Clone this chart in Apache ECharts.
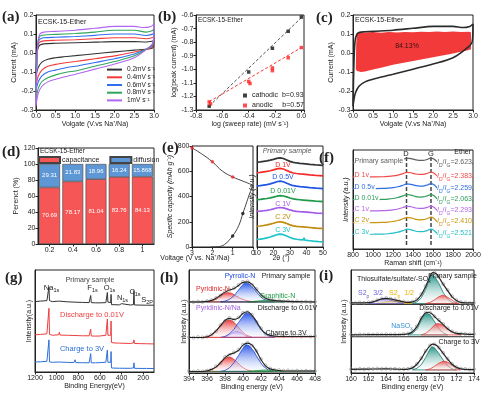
<!DOCTYPE html>
<html><head><meta charset="utf-8">
<script src="https://cdn.jsdelivr.net/npm/echarts@6/dist/echarts.min.js"></script>
<style>html,body{margin:0;padding:0;background:#fff}#c{width:500px;height:393px}</style>
</head><body><div id="c"></div>
<script>
// ---------- (a) CV curves ----------
const cvNames = ['0.2mV s⁻¹','0.4mV s⁻¹','0.6mV s⁻¹','0.8mV s⁻¹','1mV s⁻¹'];
const cvColors = ['#333333','#f23b3b','#2f6ff0','#2fa65c','#b066f0'];
const cv02 = [[0,-0.12],[0.02,-0.02],[0.05,0.025],[0.1,0.042],[0.2,0.048],[0.5,0.051],[1.0,0.054],[1.5,0.057],[2.0,0.06],[2.5,0.06],[2.8,0.058],[2.95,0.062],[3.0,0.066],[2.98,0.03],[2.9,0.022],[2.5,0.015],[2.0,0.006],[1.5,-0.004],[1.0,-0.014],[0.7,-0.02],[0.5,-0.025],[0.3,-0.033],[0.15,-0.048],[0.06,-0.075],[0.02,-0.1],[0,-0.12]];
const cv04 = [[0,-0.17],[0.02,-0.04],[0.05,0.04],[0.1,0.058],[0.2,0.064],[0.5,0.067],[1.0,0.07],[1.5,0.075],[2.0,0.08],[2.5,0.08],[2.8,0.075],[2.95,0.08],[3.0,0.086],[2.98,0.04],[2.9,0.025],[2.5,0.005],[2.0,-0.015],[1.5,-0.03],[1.0,-0.045],[0.8,-0.05],[0.5,-0.06],[0.3,-0.07],[0.15,-0.09],[0.06,-0.12],[0.02,-0.15],[0,-0.17]];
const cv06 = [[0,-0.2],[0.02,-0.05],[0.05,0.05],[0.1,0.073],[0.2,0.08],[0.5,0.083],[1.0,0.087],[1.5,0.093],[2.0,0.1],[2.5,0.1],[2.8,0.092],[2.95,0.098],[3.0,0.105],[2.98,0.05],[2.9,0.03],[2.5,-0.005],[2.0,-0.03],[1.5,-0.05],[1.0,-0.07],[0.8,-0.076],[0.5,-0.09],[0.3,-0.1],[0.15,-0.12],[0.06,-0.15],[0.02,-0.18],[0,-0.2]];
const cv08 = [[0,-0.24],[0.02,-0.06],[0.05,0.055],[0.1,0.088],[0.2,0.095],[0.5,0.098],[1.0,0.103],[1.5,0.11],[2.0,0.12],[2.5,0.12],[2.8,0.11],[2.95,0.117],[3.0,0.125],[2.98,0.055],[2.9,0.033],[2.5,-0.015],[2.0,-0.045],[1.5,-0.07],[1.0,-0.095],[0.8,-0.1],[0.5,-0.115],[0.3,-0.13],[0.15,-0.15],[0.06,-0.185],[0.02,-0.22],[0,-0.24]];
const cv10 = [[0,-0.28],[0.02,-0.08],[0.05,0.06],[0.1,0.1],[0.2,0.11],[0.5,0.114],[1.0,0.12],[1.5,0.13],[2.0,0.14],[2.5,0.14],[2.75,0.134],[2.92,0.14],[3.0,0.152],[2.98,0.06],[2.9,0.035],[2.5,-0.025],[2.0,-0.058],[1.5,-0.085],[1.0,-0.112],[0.8,-0.122],[0.5,-0.138],[0.3,-0.152],[0.15,-0.175],[0.06,-0.21],[0.02,-0.25],[0,-0.28]];
const cvData = [cv02,cv04,cv06,cv08,cv10];

// ---------- (b) b-value ----------
const cathodicPts = [[-0.7,-1.272],[-0.4,-1.02],[-0.22,-0.845],[-0.1,-0.72],[0,-0.615]];
const anodicPts = [[-0.7,-1.24],[-0.69,-1.255],[-0.4,-1.09],[-0.39,-1.105],[-0.22,-0.99],[-0.22,-1.01],[-0.1,-0.915],[0,-0.84]];
const cathodicFit = [[-0.7,-1.271],[0,-0.62]];
const anodicFit = [[-0.7,-1.239],[0,-0.84]];

// ---------- (c) capacitive area ----------
const cCapUpper = [[0.07,-0.085],[0.08,0.05],[0.1,0.1],[0.15,0.112],[0.3,0.108],[0.5,0.11],[0.7,0.107],[0.9,0.11],[1.1,0.108],[1.3,0.111],[1.5,0.109],[1.7,0.112],[1.9,0.11],[2.1,0.113],[2.3,0.111],[2.5,0.113],[2.7,0.11],[2.9,0.112],[2.95,0.108]];
const cCapLower = [[0.07,-0.085],[0.1,-0.095],[0.2,-0.1],[0.3,-0.098],[0.5,-0.087],[0.7,-0.077],[1.0,-0.062],[1.3,-0.05],[1.5,-0.042],[1.8,-0.03],[2.0,-0.022],[2.3,-0.01],[2.5,-0.002],[2.7,0.006],[2.9,0.016],[2.95,0.02]];

// ---------- (d) contribution bars ----------
const rates = ['0.2','0.4','0.6','0.8','1'];
const capacitance = [70.69,78.17,81.04,83.76,84.13];
const diffusion = [29.31,21.83,18.96,16.24,15.868];

// ---------- (e) GCD + XRD ----------
const gcdCharge = [[3,785],[2.5,735],[2,675],[1.5,600],[1,555],[0.5,522],[0,490]];
const gcdDischarge = [[2.1,0],[1.7,3],[1.4,20],[1,88],[0.7,170],[0.5,265],[0.3,360],[0.15,430],[0,490]];
const gcdRedDots = [[3,785],[2,675],[1,555]];
const gcdBlackDots = [[1,88],[0.5,265]];
const xrdTheta = [10,12,14,16,18,20,22,24,26,28,30,32,34,36,38,38.5,39,42,44,46,48,50];
const xrdNames = ['Primary sample','D 1V','D 0.5V','D 0.01V','C 1V','C 2V','C 3V'];
const xrdColors = ['#333333','#f52a2a','#1f55e6','#1e9a4a','#a35ae6','#c08a0a','#1ec4c8'];
const xrdPrimary = [84,84.3,84.8,85.3,86,86.8,87.8,88.3,87.6,86.2,84.8,83.8,83.2,82.8,82.5,84,82.3,81.8,81.5,81.2,81,80.8];
const xrdD1 = [73.5,73.8,74.3,74.8,75.5,76.3,77.3,77.8,77.2,75.8,74.4,73.3,72.8,72.4,72.1,73.6,71.9,71.4,71.1,70.8,70.6,70.4];
const xrdD05 = [60.5,60.8,61.3,61.8,62.5,63.5,64.6,65.2,64.6,63.2,61.8,60.7,60.2,59.8,59.5,61.2,59.3,58.8,58.5,58.2,58,57.8];
const xrdD001 = [47,47.2,47.6,48,48.6,49.4,50.3,50.8,50.5,49.6,48.5,47.6,47.1,46.8,46.5,48.2,46.3,45.9,45.6,45.3,45.1,44.9];
const xrdC1 = [35.3,35.5,35.9,36.3,36.9,37.7,38.6,39.1,38.7,37.8,36.7,35.8,35.3,35,34.8,36.6,34.6,34.2,33.9,33.6,33.4,33.2];
const xrdC2 = [20.5,20.8,21.3,21.9,22.6,23.5,24.5,25,24.4,23.2,21.9,20.9,20.4,20.1,19.9,21.8,19.7,19.3,19,18.7,18.5,18.3];
const xrdC3 = [7.5,7.8,8.3,9,9.9,11,12.2,12.8,12.2,10.8,9.4,8.3,7.7,7.3,7,9.2,6.8,6.2,5.8,5.5,5.2,5];
const xrdData = [xrdPrimary,xrdD1,xrdD05,xrdD001,xrdC1,xrdC2,xrdC3];

// ---------- (f) Raman ----------
const ramanShift = [800,900,1000,1100,1150,1200,1250,1300,1340,1380,1420,1460,1500,1540,1580,1610,1640,1680,1750,1850,2000];
const ramanNames = ['Primary sample','D 1v','D 0.5v','D 0.01v','C 1v','C 2v','C 3v'];
const ramanRatios = ['2.623','2.383','2.259','2.063','2.293','2.410','2.521'];
const ramanColors = ['#606060','#f24a4a','#2f6fe0','#2e9e5b','#b565e8','#c8960f','#27c0c8'];
const ramanPrimary = [87,87,87.1,87.3,87.6,88.1,89,90.5,91.8,91.3,90.2,89.6,89.6,90.4,91.8,90.8,88.5,87,86.4,86.2,86.2];
const ramanD1 = [72.7,72.7,72.8,73,73.3,73.8,74.7,76.2,77.5,77,75.9,75.3,75.4,76.3,77.8,76.6,74,72.5,72,71.9,71.9];
const ramanD05 = [60.9,60.9,61,61.2,61.5,62,62.9,64.4,65.8,65.3,64.2,63.5,63.6,64.6,66,64.8,62,60.5,60,59.9,59.9];
const ramanD001 = [49.8,49.8,49.9,50.1,50.4,51,52,53.6,55,54.4,53.2,52.5,52.6,53.6,55,53.8,51,49.5,49,48.9,48.9];
const ramanC1 = [38.4,38.4,38.5,38.7,39,39.5,40.4,41.9,43.2,42.7,41.6,41,41.1,42,43.4,42.2,39.5,38,37.5,37.4,37.4];
const ramanC2 = [26.6,26.6,26.7,26.9,27.2,27.8,28.8,30.5,32,31.4,30.2,29.5,29.6,30.6,32.2,30.8,27.8,26,25.4,25.3,25.3];
const ramanC3 = [14.8,14.8,14.9,15.1,15.4,16,17,18.6,20,19.4,18.2,17.5,17.6,18.6,20.1,18.8,16,14.2,13.6,13.5,13.5];
const ramanData = [ramanPrimary,ramanD1,ramanD05,ramanD001,ramanC1,ramanC2,ramanC3];
const dBandLine = [[1335,93],[1335,4]];
const gBandLine = [[1580,93],[1580,4]];

// ---------- (g) XPS survey ----------
const gTicks = [200,400,600,800,1000,1200];
const surveyPrimary = [[1200,69],[1150,69.5],[1090,70],[1078,70.5],[1071,83.5],[1066,70],[1040,69],[980,69.5],[975,71],[968,69.2],[900,68.8],[840,68.5],[830,70],[822,68.4],[760,68.2],[700,68],[690,68.5],[685,75],[680,68],[640,67.8],[600,67.8],[545,68],[535,69],[531,78],[526,68.5],[510,67.5],[500,68],[497,76],[493,66],[470,66],[420,65.8],[403,66],[400,67],[397,65.8],[320,65.7],[290,66],[285,80],[281,65.7],[230,65.6],[170,65.5],[168,66.2],[164,65.5],[100,65.5]];
const surveyDischarge = [[1200,36.5],[1150,36.8],[1090,37.5],[1078,38],[1071,62.5],[1066,37],[1040,36],[980,36.5],[975,39],[968,36.2],[900,36],[840,35.8],[830,37],[822,35.6],[760,35.5],[700,35.5],[690,36],[685,42],[680,35.3],[640,35.2],[600,35.3],[545,36],[535,37.5],[531,52],[526,36],[510,35],[500,36],[497,50],[493,29],[470,28.5],[420,28.3],[403,28.5],[400,29],[397,28.2],[320,28],[290,28.5],[285,31.5],[281,28],[230,27.8],[170,27.7],[168,28],[164,27.7],[100,27.5]];
const surveyCharge = [[1200,9.8],[1150,10],[1090,10.5],[1078,11],[1071,31.5],[1066,10],[1040,9.5],[980,9.8],[975,11.5],[968,9.6],[900,9.4],[840,9.3],[830,12],[822,9.2],[760,9.1],[700,9],[690,9.5],[685,18],[680,9],[640,9],[600,9.2],[545,9.6],[535,11],[531,21.5],[526,9.5],[510,9],[500,9.5],[497,20],[493,4],[470,3.8],[420,3.7],[403,3.8],[400,4.2],[397,3.7],[320,3.6],[290,4],[285,9],[281,3.6],[230,3.5],[170,3.5],[168,3.8],[164,3.5],[100,3.4]];

// ---------- (h) N1s ----------
const hDotX = [394,394.5,395,395.5,396,396.5,397,397.5,398,398.5,399,399.5,400,400.5,401,401.5,402,402.5,403,403.5,404,404.5,405,405.5,406,406.5,407,407.5,408];
const hDotTop = [69.3,68.8,69.5,69,69.8,70.8,72.8,75,79,80.8,82.5,85.5,88.5,89,85.5,81.5,75.5,73,71.5,70.2,70.5,69.5,69.8,69.2,69.6,69,69.4,68.9,69.2];
const hDotMid = [34.8,34.3,34.9,34.6,35.4,37.3,40.5,46.5,50.5,53.5,51.5,54,58.5,59,56.5,49.5,43.5,38,37,36.3,36.8,35.8,36.4,35.6,36.2,35.5,36,35.4,35.8];
const hDotBot = [1.8,1.3,1.9,1.5,2.3,3.2,6.5,9.5,15.5,17.5,20,22.5,27.5,29.5,26.5,21.5,13.5,7.5,4.5,3,2.8,2.2,2.5,1.9,2.3,1.8,2.1,1.7,2];
const hEnvX = [394,395,396,396.5,397,397.5,398,398.5,399,399.5,400,400.5,401,401.5,402,402.5,403,404,405,406,408];
const hEnvTop = [69,69,69.5,70.5,72.5,75.5,78.5,80.5,82,85,88,88.5,86,81,76,72.5,71,70,69.5,69.3,69];
const hEnvMid = [34.5,34.5,35,37,41,46,51,53,52,53.5,58,59.5,56,50,43,38.5,36.5,35.5,35.5,35.5,35.5];
const hEnvBot = [1.5,1.5,2,3.5,6,10,15,18,19.5,22,27,29,27,21,13,7,4,2.5,2,2,2];
const hPyridinicTop = [[396,69],[396.5,69.8],[397,71.5],[397.5,74.5],[398,77.5],[398.3,78],[398.7,77.5],[399.2,75],[399.7,72.5],[400.2,70.8],[400.8,69.6],[401.5,69]];
const hPyrrolicTop = [[397.5,69],[398,69.8],[398.5,71.5],[399,75],[399.5,80.5],[400,86],[400.3,87.5],[400.7,86.5],[401.2,82],[401.7,76.5],[402.2,72],[402.8,69.8],[403.5,69]];
const hGraphiticTop = [[400.5,69],[401.5,69.8],[402.5,70.5],[403.5,69.8],[404.5,69]];
const hPyridinicMid = [[395.5,34.5],[396,35.3],[396.5,37],[397,40.5],[397.5,45.5],[398,50],[398.4,51.5],[398.8,50.5],[399.3,46.5],[399.8,41],[400.3,37],[401,34.8]];
const hPyrrolicMid = [[397.5,34.5],[398,35.5],[398.5,38],[399,42.5],[399.5,49],[400,55],[400.3,58.5],[400.7,58],[401.2,53],[401.7,46],[402.2,40],[402.8,36],[403.5,34.5]];
const hPyriNaMid = [[397.8,34.5],[398.3,36],[398.8,39],[399.3,40.5],[399.8,39],[400.3,36],[400.8,34.5]];
const hPyridinicBot = [[395.5,1.5],[396,2],[396.5,3.2],[397,5.5],[397.5,9.5],[398,14],[398.4,15.5],[398.8,14.5],[399.3,11],[399.8,6.5],[400.3,3.5],[401,1.8]];
const hPyrrolicBot = [[397.5,1.5],[398,2.5],[398.5,5],[399,10],[399.5,17],[400,24],[400.3,27.5],[400.7,26.5],[401.2,21],[401.7,13.5],[402.2,7],[402.8,3],[403.5,1.5]];
const hGraphiticBot = [[400.5,1.5],[401.5,2.3],[402.5,3],[403.5,2.3],[404.5,1.5]];

// ---------- (i) S2p ----------
const iDotX = [160,160.5,161,161.5,162,162.5,163,163.5,164,164.5,165,165.5,166,166.5,167,167.5,168,168.5,169,169.5,170,170.5,171,171.5,172,172.5,173,173.5,174];
const iDotTop = [68.3,67.8,68.5,68.1,68.6,69.3,70.8,72.3,72.8,72.1,71.3,69.8,69.3,68.5,69.2,71.5,76.5,84.5,94.5,97.5,93.5,86.5,80.5,74.5,70.8,68.8,68.4,67.9,68.2];
const iDotMid = [37.3,36.8,37.4,37.1,37.5,37.2,37.6,37.3,37.7,37.4,37.6,37.3,37.8,38.3,40.5,45.5,53.5,58.8,58.5,55,51.5,47.5,43.5,40.5,38.8,38.2,37.9,37.6,37.8];
const iDotBot = [3.8,3.3,4,3.6,4.1,3.9,4.4,4,4.3,3.9,4.1,3.6,3.8,4.1,5.3,8.8,14.5,21.5,26.8,27.8,24.8,19.5,13.8,8.8,5.8,4.3,3.9,3.4,3.6];
const iEnvTop = [[160,68],[161,68],[162,68.3],[162.5,69],[163,70.5],[163.5,72],[164,72.5],[164.5,72],[165,71],[165.5,70],[166,69],[166.5,68.5],[167,69],[167.5,71],[168,76],[168.5,84],[169,94],[169.3,97.5],[169.7,96.5],[170,93],[170.5,86],[171,80],[171.5,74],[172,70.5],[172.5,68.5],[173,68],[174,68]];
const iEnvMid = [[160,37],[162,37.2],[164,37.3],[165,37.3],[166,37.5],[166.5,38],[167,40],[167.5,45],[168,53],[168.5,58.5],[168.8,59],[169.2,57.5],[169.6,54],[170,51],[170.5,47],[171,43],[171.5,40],[172,38.5],[173,37.8],[174,37.5]];
const iEnvBot = [[160,3.5],[162,3.8],[164,4],[165,3.8],[166,3.5],[166.5,3.8],[167,5],[167.5,8.5],[168,14],[168.5,21],[169,26.5],[169.3,28],[169.7,27],[170,24.5],[170.5,19],[171,13.5],[171.5,8.5],[172,5.5],[172.5,4],[173,3.5],[174,3.2]];
const iSulfTop = [[167,67.5],[167.5,69],[168,73],[168.5,81],[169,93],[169.2,95.5],[169.5,94],[170,87],[170.5,78],[171,71.5],[171.5,68.5],[172,67.5]];
const iRedTop = [[168.5,67.5],[169,68.5],[169.5,71],[170,74],[170.4,75.5],[170.8,74.5],[171.3,72],[171.8,69],[172.3,67.5]];
const iS32Top = [[162,67.5],[162.5,68.5],[163,70.5],[163.5,71.8],[163.8,72],[164.2,71.5],[164.8,70],[165.5,68.5],[166,67.5]];
const iS12Top = [[162.8,67.5],[163.5,68.3],[164,69.3],[164.5,70],[165,70.3],[165.5,70],[166,69.3],[166.5,68.3],[167,67.5]];
const iSulfMid = [[166.5,37],[167,38.5],[167.5,42.5],[168,51],[168.3,56],[168.6,58],[169,56.5],[169.5,50],[170,43],[170.5,39],[171,37]];
const iRedMid = [[168,37],[168.5,38.5],[169,42],[169.5,46.5],[169.8,48],[170.2,47.5],[170.7,45],[171.2,41.5],[171.8,38.5],[172.5,37]];
const iSulfBot = [[167,3],[167.5,4.5],[168,8],[168.5,15],[169,23.5],[169.2,25.5],[169.5,24.5],[170,19],[170.5,12.5],[171,7],[171.5,4],[172,3]];
const iRedBot = [[168.5,3],[169,4],[169.5,6.5],[170,9.5],[170.5,11.5],[170.9,11],[171.4,8.5],[171.9,5],[172.4,3]];
const iSep1 = [[160,66.6],[174,66.6]];
const iSep2 = [[160,35.2],[174,35.2]];

// ================= helpers =================
const FONT = "'Liberation Sans', Arial, sans-serif";
function isPlain(o){ return o && typeof o==='object' && !Array.isArray(o) && Object.getPrototypeOf(o)===Object.prototype; }
function merge(a,b){ for(const k in b){ if(isPlain(b[k]) && isPlain(a[k])) merge(a[k],b[k]); else a[k]=b[k]; } return a; }
const plain = v => String(v);
function axisBase(gi){ return {type:'value', gridIndex:gi, axisLine:{show:true,onZero:false,lineStyle:{color:'#222',width:1}}, axisTick:{show:true,inside:false,length:2.5,lineStyle:{color:'#222',width:1}}, axisLabel:{show:true,fontSize:7,color:'#222',fontFamily:FONT,margin:2.5,formatter:plain}, splitLine:{show:false}, nameLocation:'middle', nameTextStyle:{fontSize:7,color:'#222',fontFamily:FONT}}; }
const AX=(gi,o)=>merge(axisBase(gi),o||{});
const f1 = v => { const r=(Math.round(v*10)/10).toFixed(1); return r==='-0.0'?'0.0':r; };
const zip = (xs,ys)=>xs.map((x,i)=>[x,ys[i]]);
function ln(gi,data,color,o){ return merge({type:'line',xAxisIndex:gi,yAxisIndex:gi,data,symbol:'none',showSymbol:false,lineStyle:{color,width:1.2},itemStyle:{color},z:3,silent:true},o||{}); }
function dots(gi,data,o){ return merge({type:'scatter',xAxisIndex:gi,yAxisIndex:gi,data,symbol:'circle',symbolSize:3,itemStyle:{color:'rgba(255,255,255,0)',borderColor:'#8a8a8a',borderWidth:0.7},z:4,silent:true},o||{}); }
function grad(c1,c2){ return new echarts.graphic.LinearGradient(0,0,0,1,[{offset:0,color:c1},{offset:1,color:c2}]); }
function poly(gi,pts,base,fill,stroke,z){
  return {type:'custom',xAxisIndex:gi,yAxisIndex:gi,data:pts,z:z||2,silent:true,clip:true,
    renderItem:function(params,api){
      if(params.dataIndex!==0) return null;
      const arr = pts.map(p=>api.coord(p));
      if(base!==null){ arr.unshift(api.coord([pts[0][0],base])); arr.push(api.coord([pts[pts.length-1][0],base])); }
      return {type:'polygon',shape:{points:arr},style:{fill:fill,stroke:stroke||'none',lineWidth:stroke?0.8:0}};
    }};
}
function tx(x,y,text,o){ return {type:'text',x,y,silent:true,z:100,style:merge({text,fill:'#222',font:`7px ${FONT}`,align:'center',verticalAlign:'middle'},o||{})}; }
const LETTER = "bold 15px 'Liberation Serif', 'Times New Roman', serif";
const subRich = (fs,col)=>({n:{fontSize:fs,fontFamily:FONT,fill:col,lineHeight:11,verticalAlign:'middle'},s:{fontSize:fs-2,fontFamily:FONT,fill:col,lineHeight:11,verticalAlign:'bottom'},i:{fontSize:fs,fontFamily:FONT,fontStyle:'italic',fill:col,lineHeight:11,verticalAlign:'middle'}});

// ================= grids & axes =================
const gridDefs = [
 {left:36,top:15,width:118,height:95},
 {left:196,top:15,width:108,height:95},
 {left:353,top:15,width:120,height:95},
 {left:38,top:148,width:116,height:96},
 {left:192,top:146,width:61,height:101},
 {left:257,top:146,width:66,height:101},
 {left:353,top:150,width:120,height:99},
 {left:35,top:270,width:119,height:102},
 {left:189,top:270,width:126,height:103},
 {left:351,top:270,width:123,height:103}
].map(g=>Object.assign({show:true,borderColor:'#222',borderWidth:1,backgroundColor:'rgba(0,0,0,0)'},g));

const noLab = {axisTick:{show:false},axisLabel:{show:false}};
const xAxes = [
 AX(0,{min:0,max:3,interval:0.5,axisLabel:{formatter:f1},name:'Volgate (V.vs Na⁺/Na)',nameGap:11}),
 AX(1,{min:-0.8,max:0.02,interval:0.2,axisLabel:{formatter:v=>Math.abs(v*5-Math.round(v*5))<1e-6?f1(v):''},name:'log (sweep rate) (mV s⁻¹)',nameGap:11}),
 AX(2,{min:0,max:3,interval:0.5,axisLabel:{formatter:f1},name:'Volgate (V.vs Na⁺/Na)',nameGap:11}),
 AX(3,{type:'category',data:rates,axisTick:{alignWithLabel:true}}),
 AX(4,{min:0,max:3,interval:1,inverse:true,axisLabel:{showMinLabel:true,showMaxLabel:true}}),
 AX(5,{min:10,max:50,interval:10}),
 AX(6,{min:800,max:2000,interval:200,name:'Raman shift (cm⁻¹)',nameGap:6}),
 AX(7,{min:100,max:1200,inverse:true,axisLabel:{customValues:gTicks},axisTick:{customValues:gTicks},name:'Binding Energy(eV)',nameGap:10}),
 AX(8,{min:394,max:408,interval:2,name:'Binding energy (eV)',nameGap:11}),
 AX(9,{min:160,max:174,interval:2,name:'Binding energy (eV)',nameGap:11})
];
const yAxes = [
 AX(0,{min:-0.3,max:0.2,interval:0.1,axisLabel:{formatter:f1},name:'Current (mA)',nameGap:16}),
 AX(1,{min:-1.3,max:-0.6,interval:0.1,axisLabel:{formatter:f1},name:'log(peak current) (mA)',nameGap:15}),
 AX(2,{min:-0.3,max:0.2,interval:0.1,axisLabel:{formatter:f1},name:'Current (mA)',nameGap:14}),
 AX(3,{min:0,max:120,interval:20,name:'Perenct (%)',nameGap:13}),
 AX(4,{min:0,max:800,interval:200,name:'Specific capacity (mAh g⁻¹)',nameGap:15,nameTextStyle:{fontStyle:'italic'}}),
 AX(5,merge({min:0,max:100,name:'Intensity (a.u.)',nameGap:1,nameTextStyle:{fontStyle:'italic'}},noLab)),
 AX(6,merge({min:0,max:100,name:'Intensity (a.u.)',nameGap:3,nameTextStyle:{fontStyle:'italic'}},noLab)),
 AX(7,merge({min:0,max:100,name:'Intensity(a.u.)',nameGap:2},noLab)),
 AX(8,merge({min:0,max:100,name:'Intensity (a.u.)',nameGap:1},noLab)),
 AX(9,merge({min:0,max:100,name:'Intensity (a.u.)',nameGap:3},noLab))
];

// ================= series =================
const series = [];
// (a)
cvData.forEach((d,i)=>series.push(ln(0,d,cvColors[i],{name:cvNames[i],smooth:0.3,lineStyle:{width:1.1}})));
// (b)
series.push(ln(1,cathodicFit,'#555',{lineStyle:{type:[3,2],width:1}}));
series.push(ln(1,anodicFit,'#f23b3b',{lineStyle:{type:[3,2],width:1}}));
series.push({type:'scatter',name:'cathodic',xAxisIndex:1,yAxisIndex:1,data:cathodicPts,symbol:'rect',symbolSize:3.5,itemStyle:{color:'#111'},z:5});
series.push({type:'scatter',name:'anodic',xAxisIndex:1,yAxisIndex:1,data:anodicPts,symbol:'rect',symbolSize:3.5,itemStyle:{color:'#f22'},z:5});
// (c)
series.push(poly(2,cCapUpper.concat(cCapLower.slice().reverse()),null,'#f23a3a',null,2));
series.push(ln(2,cv10,'#2b2b2b',{smooth:0.3,lineStyle:{width:1.6}}));
// (d)
series.push({type:'bar',name:'capacitance',xAxisIndex:3,yAxisIndex:3,stack:'d',data:capacitance,barWidth:'90%',itemStyle:{color:'#f75656',borderColor:'#444',borderWidth:0.6},label:{show:true,position:'inside',color:'#fff',fontSize:6,fontFamily:FONT}});
series.push({type:'bar',name:'diffusion',xAxisIndex:3,yAxisIndex:3,stack:'d',data:diffusion,barWidth:'90%',itemStyle:{color:'#5e97d6',borderColor:'#444',borderWidth:0.6},label:{show:true,position:'inside',color:'#fff',fontSize:6,fontFamily:FONT}});
// (e)
series.push(ln(4,gcdCharge,'#444',{smooth:0.4,lineStyle:{width:1}}));
series.push(ln(4,gcdDischarge,'#444',{smooth:0.4,lineStyle:{width:1}}));
series.push({type:'scatter',xAxisIndex:4,yAxisIndex:4,data:gcdRedDots,symbolSize:3.5,itemStyle:{color:'#f22'},z:5,silent:true});
series.push({type:'scatter',xAxisIndex:4,yAxisIndex:4,data:gcdBlackDots,symbolSize:3.5,itemStyle:{color:'#111'},z:5,silent:true});
xrdData.forEach((d,i)=>series.push(ln(5,zip(xrdTheta,d),xrdColors[i],{lineStyle:{width:1.7}})));
// (f)
ramanData.forEach((d,i)=>series.push(ln(6,zip(ramanShift,d),ramanColors[i],{smooth:0.4,lineStyle:{width:1.2}})));
series.push(ln(6,dBandLine,'#444',{lineStyle:{type:[4,2],width:1.5},z:2}));
series.push(ln(6,gBandLine,'#444',{lineStyle:{type:[4,2],width:1.5},z:2}));
// (g)
series.push(ln(7,surveyPrimary,'#333',{lineStyle:{width:1}}));
series.push(ln(7,surveyDischarge,'#ee3e3e',{lineStyle:{width:1}}));
series.push(ln(7,surveyCharge,'#2e6fd8',{lineStyle:{width:1}}));
// (h)
const RED = ()=>grad('rgba(232,40,40,0.95)','rgba(255,255,255,0.3)');
const BLUE = ()=>grad('rgba(20,70,230,0.95)','rgba(255,255,255,0.3)');
const GREEN = ()=>grad('rgba(30,160,70,0.9)','rgba(255,255,255,0.3)');
const PURP = ()=>grad('rgba(170,100,230,0.9)','rgba(255,255,255,0.3)');
series.push(ln(8,[[394,69],[408,69]],'#333',{lineStyle:{width:0.8}}));
series.push(ln(8,[[394,34.5],[408,35]],'#e84444',{lineStyle:{width:0.8}}));
series.push(ln(8,[[394,1.5],[408,1.8]],'#2a7a3a',{lineStyle:{width:0.8}}));
series.push(poly(8,hPyridinicTop,69,RED(),'#e02828'));
series.push(poly(8,hPyrrolicTop,69,BLUE(),'#1e46d8'));
series.push(poly(8,hGraphiticTop,69,GREEN(),'#1e9a44'));
series.push(poly(8,hPyridinicMid,34.5,RED(),'#e02828'));
series.push(poly(8,hPyriNaMid,34.5,PURP(),'#a060e0'));
series.push(poly(8,hPyrrolicMid,34.5,BLUE(),'#1e46d8'));
series.push(poly(8,hPyridinicBot,1.5,RED(),'#e02828'));
series.push(poly(8,hPyrrolicBot,1.5,BLUE(),'#1e46d8'));
series.push(poly(8,hGraphiticBot,1.5,GREEN(),'#1e9a44'));
series.push(dots(8,zip(hDotX,hDotTop)));
series.push(dots(8,zip(hDotX,hDotMid)));
series.push(dots(8,zip(hDotX,hDotBot)));
series.push(ln(8,zip(hEnvX,hEnvTop),'#222',{smooth:0.4,lineStyle:{width:1.1},z:5}));
series.push(ln(8,zip(hEnvX,hEnvMid),'#222',{smooth:0.4,lineStyle:{width:1.1},z:5}));
series.push(ln(8,zip(hEnvX,hEnvBot),'#222',{smooth:0.4,lineStyle:{width:1.1},z:5}));
// (i)
const TEAL = ()=>grad('rgba(20,140,125,0.95)','rgba(255,255,255,0.3)');
const IRED = ()=>grad('rgba(235,60,60,0.9)','rgba(255,255,255,0.3)');
series.push(ln(9,iSep1,'#222',{lineStyle:{width:1}}));
series.push(ln(9,iSep2,'#222',{lineStyle:{width:1}}));
series.push(poly(9,iS12Top,67.5,grad('rgba(245,180,0,0.95)','rgba(255,230,120,0.6)'),'#f0b000'));
series.push(poly(9,iS32Top,67.5,grad('rgba(120,100,230,0.85)','rgba(255,255,255,0.3)'),'#6a5fd8'));
series.push(poly(9,iSulfTop,67.5,TEAL(),'#137a6e'));
series.push(poly(9,iRedTop,67.5,IRED(),'#e04040'));
series.push(poly(9,iSulfMid,37,TEAL(),'#137a6e'));
series.push(poly(9,iRedMid,37,IRED(),'#e04040'));
series.push(poly(9,iSulfBot,3,TEAL(),'#137a6e'));
series.push(poly(9,iRedBot,3,IRED(),'#e04040'));
series.push(dots(9,zip(iDotX,iDotTop)));
series.push(dots(9,zip(iDotX,iDotMid)));
series.push(dots(9,zip(iDotX,iDotBot)));
series.push(ln(9,iEnvTop,'#222',{smooth:0.4,lineStyle:{width:1.2},z:5}));
series.push(ln(9,iEnvMid,'#222',{smooth:0.4,lineStyle:{width:1.2},z:5}));
series.push(ln(9,iEnvBot,'#222',{smooth:0.4,lineStyle:{width:1.2},z:5}));

// ================= texts =================
const G = [];
[['(a)',2,17.5],['(b)',158,17.5],['(c)',316,18],['(d)',2,152.5],['(e)',162,148],['(f)',319,158],['(g)',5,278],['(h)',160,278],['(i)',319,276]]
 .forEach(([t,x,y])=>G.push(tx(x,y,t,{font:LETTER,align:'left'})));
G.push(tx(38,22,'ECSK-15-Ether',{align:'left'}));
G.push(tx(198,20,'ECSK-15-Ether',{align:'left',font:`6.5px ${FONT}`}));
G.push(tx(355,20,'ECSK-15-Ether',{align:'left'}));
G.push(tx(407,46,'84.13%',{fill:'#3a1010'}));
G.push(tx(40,151,'ECSK-15-Ether',{align:'left',font:`6.5px ${FONT}`}));
G.push(tx(195,258,'Voltage (V vs. Na⁺/Na)'));
G.push(tx(281,258,'2θ (°)'));
const xrdLabY = [151.5,165,177.5,191.5,204,217.5,230.5];
xrdNames.forEach((n,i)=>G.push(tx(i===0?287:283,xrdLabY[i],n,{fill:i===0?'#555':xrdColors[i],font:`${i===0?'italic ':''}7px ${FONT}`})));
const ramanLabY = [161,175,186.7,197.7,209,220,231.7];
ramanNames.forEach((n,i)=>{
  G.push(tx(354.5,ramanLabY[i],n,{fill:ramanColors[i],align:'left',backgroundColor:'#fff',padding:[0,1,0,0]}));
  G.push(tx(472,ramanLabY[i]+1.5,`{i|I}{s|D}{n|/}{i|I}{s|G}{n|=${ramanRatios[i]}}`,{align:'right',backgroundColor:'#fff',rich:subRich(7,ramanColors[i])}));
});
G.push(tx(471,152.5,'Ether',{align:'right'}));
G.push(tx(406,154,'D',{font:`7.5px ${FONT}`}));
G.push(tx(431,153.5,'G',{font:`7.5px ${FONT}`}));
// (g)
G.push(tx(90,280,'Primary sample',{fill:'#444'}));
[['Na','1s',51.5,288],['F','1s',92.5,288],['O','1s',109.5,288],['N','1s',122.5,297.5],['C','1s',135,292],['S','2P',147,300]]
 .forEach(([a,b,x,y])=>G.push(tx(x,y,`{n|${a}}{s|${b}}`,{rich:subRich(7.5,'#222')})));
G.push(tx(92,315,'Discharge to 0.01V',{fill:'#ee3e3e',font:`7.5px ${FONT}`}));
G.push(tx(82,349,'Charge to 3V',{fill:'#2e6fd8',font:`7.5px ${FONT}`}));
// (h)
G.push(tx(240,276.5,'Pyrrolic-N',{fill:'#1e46d8'}));
G.push(tx(286,276.5,'Primary sample'));
G.push(tx(213,289,'Pyridinic-N',{fill:'#e02828'}));
G.push(tx(277.5,296,'Graphitic-N',{fill:'#1e9a44'}));
G.push(tx(196,307.7,'Pyridinic-N/Na',{fill:'#a060e0',align:'left'}));
G.push(tx(287.5,307.7,'Discharge to 0.01V'));
G.push(tx(286,333.3,'Charge to 3V'));
// (i)
G.push(tx(357,279,'{n|Thiosulfate/sulfate/-SO}{s|x}',{align:'left',rich:subRich(7,'#222')}));
G.push(tx(452.5,276,'Primary sample'));
G.push(tx(358,293.3,'{n|S2}{s|p}{n|  3/2}',{align:'left',rich:subRich(7,'#6a5fd8')}));
G.push(tx(389,293.3,'{n|S2}{s|p}{n|  1/2}',{align:'left',rich:subRich(7,'#f0b000')}));
G.push(tx(449,308.3,'Discharge to 0.01V'));
G.push(tx(402,326,'{n|NaSO}{s|x}',{rich:subRich(7,'#3a8fd0')}));
G.push(tx(459,342.3,'Charge to 3V'));

// ================= legends =================
const legends = [
 {data:cvNames,orient:'vertical',left:107,top:66,itemWidth:15,itemHeight:2,itemGap:0.5,icon:'rect',padding:0,
  textStyle:{fontSize:6.5,color:'#222',fontFamily:FONT,lineHeight:7.2},selectedMode:false},
 {data:['cathodic','anodic'],orient:'vertical',left:243,top:92,itemWidth:4,itemHeight:4,itemGap:3,icon:'rect',padding:0,
  formatter:n=>n==='cathodic'?'cathodic  b=0.93':'anodic     b=0.57',textStyle:{fontSize:7,color:'#222',fontFamily:FONT},selectedMode:false},
 {data:['capacitance','diffusion'],orient:'horizontal',left:38,top:156,itemWidth:21,itemHeight:6,itemGap:10,icon:'rect',padding:0,
  textStyle:{fontSize:7,color:'#222',fontFamily:FONT,padding:[0,0,0,-3]},selectedMode:false}
];

const option = {animation:false, backgroundColor:'#fff', grid:gridDefs, xAxis:xAxes, yAxis:yAxes, series, legend:legends, graphic:{elements:G}};
const chart = echarts.init(document.getElementById('c'));
chart.setOption(option);
</script></body></html>
